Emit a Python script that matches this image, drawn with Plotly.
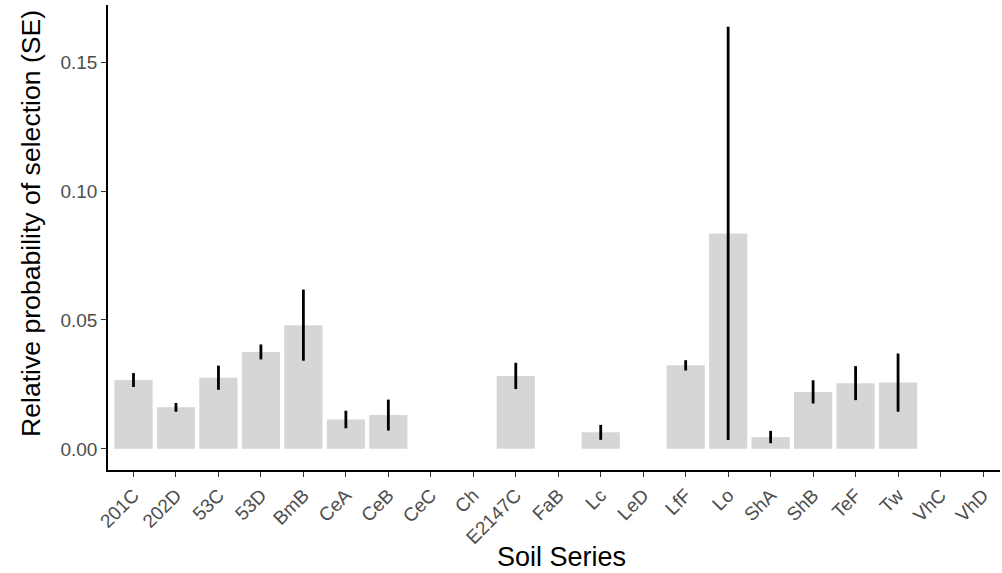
import plotly.graph_objects as go

# Soil series and the relative probability of selection (mean, SE)
soil_series = ["201C", "202D", "53C", "53D", "BmB", "CeA", "CeB", "CeC", "Ch",
               "E2147C", "FaB", "Lc", "LeD", "LfF", "Lo", "ShA", "ShB", "TeF",
               "Tw", "VhC", "VhD"]
probability = [0.0267, 0.0161, 0.0276, 0.0376, 0.0480, 0.0114, 0.0131, None, None,
               0.0283, None, 0.0064, None, 0.0324, 0.0836, 0.0046, 0.0221, 0.0255,
               0.0257, None, None]
std_error = [0.0027, 0.0017, 0.0047, 0.0029, 0.0138, 0.0034, 0.0060, None, None,
             0.0051, None, 0.0029, None, 0.0020, 0.0802, 0.0024, 0.0045, 0.0066,
             0.0113, None, None]

y_ticks = [0.0, 0.05, 0.10, 0.15]

fig = go.Figure(
    go.Bar(
        x=soil_series,
        y=probability,
        marker=dict(color="#d6d6d6", line=dict(width=0)),
        error_y=dict(type="data", array=std_error, symmetric=True,
                     color="black", thickness=2.8, width=0),
    )
)

fig.update_layout(
    width=1002,
    height=573,
    margin=dict(l=108, r=2, t=5, b=103),
    paper_bgcolor="white",
    plot_bgcolor="white",
    bargap=0.1,
    showlegend=False,
    font=dict(family="Liberation Sans, Arial, sans-serif"),
    annotations=[
        dict(text="Relative probability of selection (SE)", textangle=-90,
             xref="paper", yref="paper", x=0, y=0.529, xanchor="center",
             yanchor="middle", xshift=-77, showarrow=False,
             font=dict(size=26.6, color="black")),
        dict(text="Soil Series", xref="paper", yref="paper", x=0.508, y=0,
             xanchor="center", yanchor="middle", yshift=-87, showarrow=False,
             font=dict(size=27, color="black")),
    ],
)

fig.update_xaxes(
    type="category",
    categoryorder="array",
    categoryarray=soil_series,
    range=[-0.6, 20.4],
    showline=True, linecolor="black", linewidth=1.5,
    ticks="outside", ticklen=5, tickcolor="#333333", tickwidth=1.2,
    tickangle=-45,
    tickfont=dict(size=19, color="#4d4d4d"),
    showgrid=False, zeroline=False,
)

fig.update_yaxes(
    range=[-0.0082, 0.1722],
    tickvals=y_ticks,
    tickformat=".2f",
    showline=True, linecolor="black", linewidth=1.5,
    ticks="outside", ticklen=5, tickcolor="#333333", tickwidth=1.2,
    tickfont=dict(size=19, color="#4d4d4d"),
    showgrid=False, zeroline=False,
)

fig.write_html("out.html")
